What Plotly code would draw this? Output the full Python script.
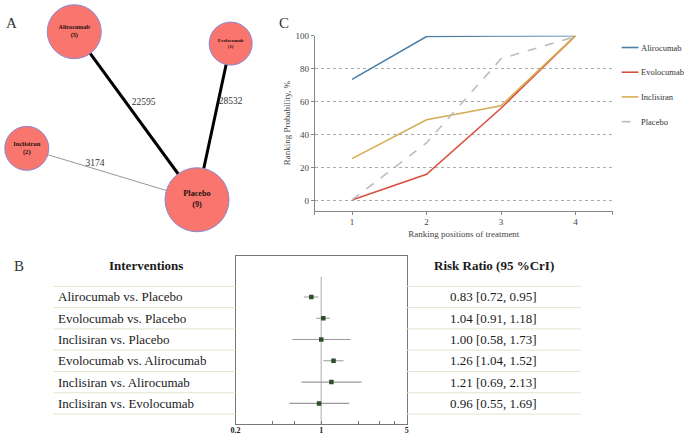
import plotly.graph_objects as go

W, H = 685, 437

# ---------------- Panel A: network ----------------
node_names = ["Alirocumab", "Evolocumab", "Inclisiran", "Placebo"]
node_studies = [5, 1, 2, 9]
node_x = [70, 228, 22, 194]          # network layout coordinates
node_y = [27, 39, 145, 197]
node_size = [54, 43, 44, 64]
node_font = [6.2, 4.8, 6.6, 8.2]
edge_from = ["Alirocumab", "Evolocumab", "Inclisiran"]
edge_to = ["Placebo", "Placebo", "Placebo"]
edge_patients = [22595, 28532, 3174]
edge_label_x = [140, 228, 91]
edge_label_y = [99, 98, 160]
edge_width = [3, 3, 0.9]
edge_color = ["#000000", "#000000", "#8c8c8c"]

# ---------------- Panel C: rankogram ----------------
rank_positions = [1, 2, 3, 4]
rank_alirocumab = [73.5, 99.5, 99.8, 100]
rank_evolocumab = [0.5, 16, 56, 100]
rank_inclisiran = [25.5, 49, 57.5, 100]
rank_placebo = [0.5, 35, 86, 99.5]
rank_ticks = [0, 20, 40, 60, 80, 100]

# ---------------- Panel B: forest ----------------
comparisons = ["Alirocumab vs. Placebo", "Evolocumab vs. Placebo", "Inclisiran vs. Placebo",
               "Evolocumab vs. Alirocumab", "Inclisiran vs. Alirocumab", "Inclisiran vs. Evolocumab"]
rr = [0.83, 1.04, 1.00, 1.26, 1.21, 0.96]
rr_lo = [0.72, 0.91, 0.58, 1.04, 0.69, 0.55]
rr_hi = [0.95, 1.18, 1.73, 1.52, 2.13, 1.69]
forest_tickvals = [0.2, 0.4, 0.6, 1, 2, 3, 4, 5]
forest_ticktext = ["0.2", "", "", "1", "", "", "", "5"]

SERIF = "Liberation Serif"

fig = go.Figure()

# ---- network ----
idx = {n: i for i, n in enumerate(node_names)}
for a, b, w, c in zip(edge_from, edge_to, edge_width, edge_color):
    ia, ib = idx[a], idx[b]
    fig.add_trace(go.Scatter(x=[node_x[ia], node_x[ib]], y=[node_y[ia], node_y[ib]],
                             mode="lines", line=dict(color=c, width=w),
                             xaxis="x3", yaxis="y3", showlegend=False, hoverinfo="skip"))
fig.add_trace(go.Scatter(x=edge_label_x, y=edge_label_y, mode="text",
                         text=[str(v) for v in edge_patients],
                         textfont=dict(family=SERIF, size=9.5, color="#333333"),
                         xaxis="x3", yaxis="y3", showlegend=False, hoverinfo="skip"))
fig.add_trace(go.Scatter(x=node_x, y=node_y, mode="markers+text",
                         marker=dict(size=node_size, color="#F8766D", opacity=1,
                                     line=dict(color="#8a86d6", width=1)),
                         text=[f"<b>{n}</b><br><b>({s})</b>" for n, s in zip(node_names, node_studies)],
                         textposition="middle center",
                         textfont=dict(family=SERIF, size=node_font, color="#2b1010"),
                         cliponaxis=False,
                         xaxis="x3", yaxis="y3", showlegend=False, hoverinfo="skip"))

# ---- rankogram ----
series = [("Alirocumab", rank_alirocumab, "#4a7fa8", "solid"),
          ("Evolocumab", rank_evolocumab, "#d9503f", "solid"),
          ("Inclisiran", rank_inclisiran, "#d6ad55", "solid"),
          ("Placebo", rank_placebo, "#bdbdbd", "dash")]
for name, vals, col, dash in series:
    fig.add_trace(go.Scatter(x=rank_positions, y=vals, mode="lines", name=name,
                             line=dict(color=col, width=1.6, dash=dash),
                             showlegend=False, xaxis="x", yaxis="y"))

# ---- forest ----
rows = list(range(len(comparisons)))
fig.add_trace(go.Scatter(x=rr, y=rows, mode="markers",
                         marker=dict(symbol="square", size=4.5, color="#2f4f2a"),
                         error_x=dict(type="data", symmetric=False,
                                      array=[h - e for h, e in zip(rr_hi, rr)],
                                      arrayminus=[e - l for e, l in zip(rr, rr_lo)],
                                      width=0, thickness=1.1, color="#9a9a9a"),
                         xaxis="x2", yaxis="y2", showlegend=False, hoverinfo="skip"))

shapes = []
annotations = []
# reference line at RR = 1
shapes.append(dict(type="line", xref="x2", yref="y2", x0=1, x1=1, y0=-0.95, y1=5.975,
                   line=dict(color="#c8c8c8", width=1.5), layer="below"))
# table separator lines
for i in range(len(comparisons) + 1):
    for xa, xb in [(49 / W, 233 / W), (406 / W, 582 / W)]:
        shapes.append(dict(type="line", xref="paper", yref="y2", x0=xa, x1=xb,
                           y0=i - 0.5, y1=i - 0.5, line=dict(color="#dbe9cf", width=1)))

# manual legend for the rankogram
legend_top_px, legend_step_px = 43, 25
for k, (name, vals, col, dash) in enumerate(series):
    yy = 1 - (legend_top_px + k * legend_step_px) / H
    shapes.append(dict(type="line", xref="paper", yref="paper", x0=623 / W, x1=640 / W,
                       y0=yy, y1=yy, line=dict(color=col, width=1.6, dash=dash)))
    annotations.append(dict(xref="paper", yref="paper", x=641 / W, y=yy, text=name,
                            showarrow=False, xanchor="left", yanchor="middle",
                            font=dict(family=SERIF, size=8.5, color="#333333")))

for i, (c, e, l, h) in enumerate(zip(comparisons, rr, rr_lo, rr_hi)):
    annotations.append(dict(xref="paper", yref="y2", x=52 / W, y=i, text=c, showarrow=False,
                            xanchor="left", yanchor="middle",
                            font=dict(family=SERIF, size=13, color="#1a1a1a")))
    annotations.append(dict(xref="paper", yref="y2", x=494 / W, y=i,
                            text=f"{e:.2f} [{l:.2f}, {h:.2f}]", showarrow=False,
                            xanchor="center", yanchor="middle",
                            font=dict(family=SERIF, size=13, color="#1a1a1a")))
annotations.append(dict(xref="paper", yref="paper", x=142 / W, y=1 - 264 / H, text="<b>Interventions</b>",
                        showarrow=False, xanchor="center", yanchor="middle",
                        font=dict(family=SERIF, size=13, color="#1a1a1a")))
annotations.append(dict(xref="paper", yref="paper", x=494 / W, y=1 - 264 / H,
                        text="<b>Risk Ratio (95 %CrI)</b>",
                        showarrow=False, xanchor="center", yanchor="middle",
                        font=dict(family=SERIF, size=13, color="#1a1a1a")))
for lab, px, py in [("A", 7, 18), ("C", 282, 18), ("B", 14, 264)]:
    annotations.append(dict(xref="paper", yref="paper", x=px / W, y=1 - py / H, text=lab,
                            showarrow=False, xanchor="center", yanchor="middle",
                            font=dict(family=SERIF, size=15, color="#333333")))

fig.update_layout(
    width=W, height=H, margin=dict(l=0, r=0, t=0, b=0),
    paper_bgcolor="white", plot_bgcolor="rgba(0,0,0,0)",
    shapes=shapes, annotations=annotations,
    showlegend=False,
    # rankogram axes
    xaxis=dict(domain=[313 / W, 614 / W], range=[0.5, 4.5],
               tickvals=[0.5, 1, 2, 3, 4, 4.5], ticktext=["", "1", "2", "3", "4", ""],
               ticks="outside", ticklen=3, tickcolor="#888888",
               showline=True, linecolor="#888888", linewidth=1,
               showgrid=False, zeroline=False,
               tickfont=dict(family=SERIF, size=9, color="#444444"),
               title=dict(text="Ranking positions of treatment", standoff=4,
                          font=dict(family=SERIF, size=9, color="#444444"))),
    yaxis=dict(domain=[1 - 208 / H, 1 - 31 / H], range=[-6, 100],
               tickvals=rank_ticks, ticks="outside", ticklen=3, tickcolor="#888888",
               showline=True, linecolor="#888888", linewidth=1,
               showgrid=True, gridcolor="#aaaaaa", griddash="dot", gridwidth=1,
               zeroline=False,
               tickfont=dict(family=SERIF, size=9, color="#444444"),
               title=dict(text="Ranking Probability, %", standoff=3,
                          font=dict(family=SERIF, size=9, color="#444444"))),
    # forest axes
    xaxis2=dict(domain=[233 / W, 406 / W], type="log", range=[-0.69897, 0.69897],
                anchor="y2", tickvals=forest_tickvals,
                ticktext=[f"<b>{t}</b>" if t else "" for t in forest_ticktext],
                ticks="inside", ticklen=3, tickcolor="#777777",
                showline=True, mirror=True, linecolor="#777777", linewidth=1,
                showgrid=False, zeroline=False, ticklabelstandoff=-2,
                tickfont=dict(family=SERIF, size=8, color="#222222")),
    yaxis2=dict(domain=[1 - 424 / H, 1 - 254 / H], range=[5.975, -1.92], anchor="x2",
                showline=True, mirror=True, linecolor="#777777", linewidth=1,
                showticklabels=False, ticks="", showgrid=False, zeroline=False),
    # network axes
    xaxis3=dict(domain=[0, 260 / W], range=[0, 260], anchor="y3", visible=False),
    yaxis3=dict(domain=[1 - 240 / H, 1], range=[240, 0], anchor="x3", visible=False),
)

fig.write_html("out.html", config={"displayModeBar": False, "staticPlot": True},
               post_script="document.body.style.margin='0px';")
